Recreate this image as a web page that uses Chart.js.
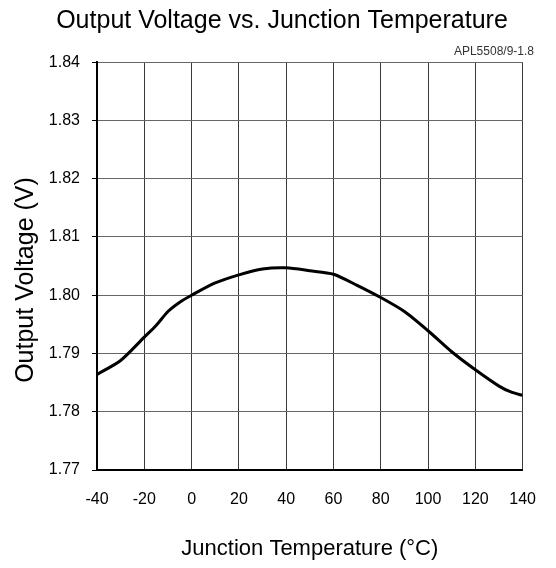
<!DOCTYPE html>
<html>
<head>
<meta charset="utf-8">
<script src="https://cdn.jsdelivr.net/npm/chart.js@4/dist/chart.umd.min.js"></script>
<style>
  html, body { margin: 0; padding: 0; background: #fff; }
</style>
</head>
<body>
<canvas id="myChart" width="556" height="568"></canvas>
<script>
/*** data ***/
var temps = [-40, -30, -20, -15, -10, -5, 0, 10, 20, 30, 40, 50, 60, 70, 80, 90, 100, 110, 120, 130, 135, 140];
var volts = [1.7864, 1.7888, 1.7928, 1.7948, 1.7972, 1.7988, 1.8000, 1.8021, 1.8035, 1.8045, 1.8047, 1.8042,
             1.8036, 1.8017, 1.7996, 1.7972, 1.7939, 1.7903, 1.7872, 1.7844, 1.7834, 1.7828];
var xTicks = [-40, -20, 0, 20, 40, 60, 80, 100, 120, 140];
var yTicks = [1.77, 1.78, 1.79, 1.80, 1.81, 1.82, 1.83, 1.84];

var points = temps.map(function (t, i) { return { x: t, y: volts[i] }; });
var fontFamily = "'Liberation Sans', Arial, sans-serif";

var ctx = document.getElementById("myChart").getContext("2d");
var chart = new Chart(ctx, {
  type: "line",
  data: {
    datasets: [
      {
        label: "VOUT",
        data: points,
        borderColor: "#000",
        borderWidth: 3,
        pointRadius: 0,
        tension: 0.25,
        fill: false,
      },
    ],
  },
  options: {
    responsive: false,
    animation: false,
    devicePixelRatio: 1,
    layout: { padding: { left: 30, right: 22, top: 0, bottom: 0 } },
    plugins: {
      legend: { display: false },
      tooltip: { enabled: false },
      title: {
        display: true,
        text: "Output Voltage vs. Junction Temperature",
        color: "#000",
        font: { family: fontFamily, size: 25, weight: "normal", lineHeight: 1.2 },
        padding: { top: 6, bottom: 9 },
      },
      subtitle: {
        display: true,
        text: "APL5508/9-1.8",
        align: "end",
        color: "#333",
        font: { family: fontFamily, size: 12, weight: "normal", lineHeight: 1.1 },
        padding: { top: 0, bottom: 4 },
      },
    },
    scales: {
      x: {
        type: "linear",
        min: -40,
        max: 140,
        afterBuildTicks: function (s) { s.ticks = xTicks.map(function (v) { return { value: v }; }); },
        afterFit: function (s) { s.height = 98; },
        grid: { color: "#3a3a3a", lineWidth: 1, drawTicks: false },
        border: { color: "#000", width: 2 },
        ticks: { color: "#000", padding: 20, font: { family: fontFamily, size: 16 } },
        title: {
          display: true,
          text: "Junction Temperature (°C)",
          color: "#000",
          font: { family: fontFamily, size: 22, weight: "normal", lineHeight: 1.2 },
          padding: { top: 0, bottom: 5.5 },
        },
      },
      y: {
        min: 1.77,
        max: 1.84,
        afterBuildTicks: function (s) { s.ticks = yTicks.map(function (v) { return { value: v }; }); },
        afterFit: function (s) { s.width = 67; },
        grid: { color: "#666", lineWidth: 1, drawTicks: true, tickLength: 5, tickColor: "#000" },
        border: { color: "#000", width: 2 },
        ticks: {
          color: "#000",
          padding: 12,
          font: { family: fontFamily, size: 16 },
          callback: function (v) { return v.toFixed(2); },
        },
        title: {
          display: true,
          text: "Output Voltage (V)    ",
          color: "#000",
          font: { family: fontFamily, size: 25, weight: "normal", lineHeight: 1.2 },
          padding: { top: -19, bottom: 0 },
        },
      },
    },
  },
});
</script>
</body>
</html>
